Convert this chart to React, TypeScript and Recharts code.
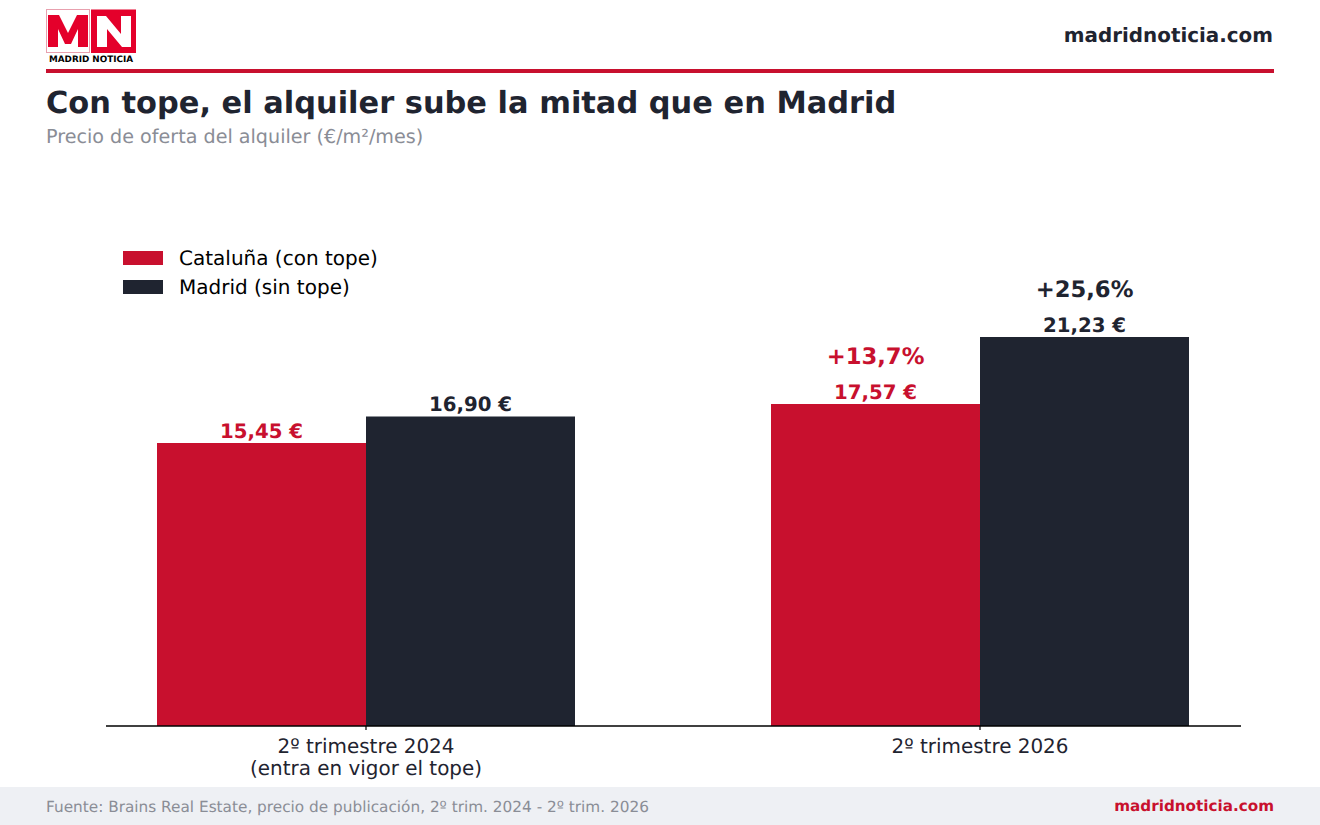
import React from "react";
import { BarChart, Bar, XAxis, YAxis, Legend, LabelList } from "recharts";

const categories = ["2º trimestre 2024\n(entra en vigor el tope)", "2º trimestre 2026"];
const cataluna = [15.45, 17.57];
const madrid = [16.9, 21.23];
const catalunaPct = ["", "+13,7%"];
const madridPct = ["", "+25,6%"];
const seriesNames = ["Cataluña (con tope)", "Madrid (sin tope)"];

const RED = "#C8102E";
const DARK = "#1F2430";
const GREY = "#8A8D96";
const LOGO = "#E4002B";
const FONT = "'DejaVu Sans', sans-serif";
const GEO: React.CSSProperties = { textRendering: "geometricPrecision" };

const data = categories.map((category, i) => ({
  category,
  cataluna: cataluna[i],
  madrid: madrid[i],
  catalunaPct: catalunaPct[i],
  madridPct: madridPct[i],
}));

const fmt = (v: number) => v.toFixed(2).replace(".", ",") + " €";

const ValueLabel = (color: string) => (p: any) => (
  <text x={p.x + p.width / 2} y={p.y - 5} textAnchor="middle" fill={color}
    style={{ ...GEO, fontFamily: FONT, fontSize: 19.75, fontWeight: 700 }}>{fmt(p.value)}</text>
);
const PctLabel = (color: string) => (p: any) =>
  p.value ? (
    <text x={p.x + p.width / 2} y={p.y - 40} textAnchor="middle" fill={color}
      style={{ ...GEO, fontFamily: FONT, fontSize: 22.7, fontWeight: 700 }}>{p.value}</text>
  ) : null;

const Tick = (p: any) => (
  <g>
    {String(p.payload.value).split("\n").map((line: string, i: number) => (
      <text key={i} x={p.x} y={726 + 26.5 + i * 22} textAnchor="middle" fill={DARK}
        style={{ ...GEO, fontFamily: FONT, fontSize: 19.95 }}>{line}</text>
    ))}
  </g>
);

const LegendBox = (p: any) => (
  <div style={{ ...GEO, fontFamily: FONT, fontSize: 20, color: "#000" }}>
    {p.payload.map((e: any) => (
      <div key={e.value} style={{ display: "flex", alignItems: "center", height: 29 }}>
        <span style={{ width: 40, height: 14, background: e.color, marginRight: 16, display: "block" }} />
        <span>{e.value}</span>
      </div>
    ))}
  </div>
);

const Logo = () => (
  <svg width={140} height={66} style={{ position: "absolute", left: 0, top: 0 }}>
    <rect x={46.5} y={9.5} width={43} height={43} fill="#fff" stroke="#E8A0AE" strokeWidth={1} />
    <polygon fill={LOGO} points="48,47 48,15 59,15 68,33 77,15 88,15 88,47 78,47 78,29 71,44 65,44 58,29 58,47" />
    <rect x={91} y={9.5} width={45} height={43.5} fill={LOGO} />
    <polygon fill="#fff" points="97,47 97,16 106,16 121,34 121,16 131,16 131,47 122,47 107,29 107,47" />
    <text x={91} y={62} textAnchor="middle" fill="#000" style={{ ...GEO, fontFamily: FONT, fontSize: 8.8, fontWeight: 700 }}>MADRID NOTICIA</text>
  </svg>
);

const abs = (s: React.CSSProperties): React.CSSProperties => ({ position: "absolute", whiteSpace: "nowrap", fontFamily: FONT, lineHeight: 1, ...GEO, ...s });

export default function App() {
  return (
    <div style={{ position: "absolute", left: 0, top: 0, width: 1320, height: 825, background: "#fff", overflow: "hidden" }}>
      <BarChart width={1320} height={825} data={data} barGap={0} barSize={209}
        margin={{ top: 176.4, right: 79, bottom: 0, left: 106 }} style={{ position: "absolute", left: 0, top: 0 }}>
        <XAxis dataKey="category" scale="point" padding={{ left: 260, right: 261 }} height={99} interval={0}
          axisLine={{ stroke: "#000", strokeWidth: 1.4 }} tickLine={{ stroke: "#000", strokeWidth: 1.2 }} tickSize={4} tick={<Tick />} />
        <YAxis hide domain={[0, 30]} width={0} />
        <Legend layout="vertical" align="center" verticalAlign="middle" content={<LegendBox />}
          wrapperStyle={{ position: "absolute", left: 123, top: 243, width: 300, bottom: "auto", right: "auto" }} />
        <Bar dataKey="cataluna" name={seriesNames[0]} fill={RED} isAnimationActive={false}>
          <LabelList dataKey="cataluna" content={ValueLabel(RED)} />
          <LabelList dataKey="catalunaPct" content={PctLabel(RED)} />
        </Bar>
        <Bar dataKey="madrid" name={seriesNames[1]} fill={DARK} isAnimationActive={false}>
          <LabelList dataKey="madrid" content={ValueLabel(DARK)} />
          <LabelList dataKey="madridPct" content={PctLabel(DARK)} />
        </Bar>
      </BarChart>
      <Logo />
      <div style={abs({ right: 47, top: 26, fontSize: 19.9, fontWeight: 700, color: DARK })}>madridnoticia.com</div>
      <div style={{ position: "absolute", left: 46, top: 69, width: 1228, height: 4, background: RED }} />
      <div style={abs({ left: 46, top: 88.5, fontSize: 30.45, fontWeight: 700, color: DARK })}>Con tope, el alquiler sube la mitad que en Madrid</div>
      <div style={abs({ left: 46, top: 126.5, fontSize: 19.15, color: GREY })}>Precio de oferta del alquiler (€/m²/mes)</div>
      <div style={{ position: "absolute", left: 0, top: 787, width: 1320, height: 38, background: "#EEF0F4" }} />
      <div style={abs({ left: 46, top: 799.5, fontSize: 15.3, color: GREY })}>Fuente: Brains Real Estate, precio de publicación, 2º trim. 2024 - 2º trim. 2026</div>
      <div style={abs({ right: 46, top: 799, fontSize: 15.2, fontWeight: 700, color: RED })}>madridnoticia.com</div>
    </div>
  );
}
